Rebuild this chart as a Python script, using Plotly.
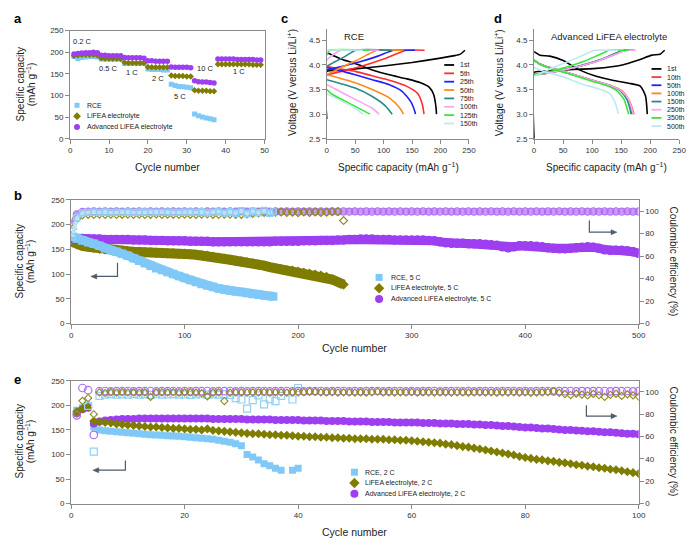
import plotly.graph_objects as go

W, H = 700, 548
FONT = 'Arial'
C_RCE = '#7fc8f8'
C_LIF = '#7f7d00'
C_ADV = '#9d3ef0'
C_RCE_O = '#8fd0f8'
C_LIF_O = '#8f8c20'
C_ADV_O = '#b06cf4'
AXC = '#8a8a8a'

# ---------------- Panel a : rate test ----------------
a_cycles = list(range(1, 50))
a_rce = [190, 185, 188, 189, 190, 190, 189,
         184, 184, 184, 184, 184, 184,
         174, 174, 174, 174, 174, 174,
         161, 160, 160, 160, 159, 159,
         126, 123, 121, 120, 119, 118,
         57, 53, 50, 48, 46, 44] + [None] * 12
a_lif = [192, 193, 194, 194, 194, 194, 193,
         186, 185, 185, 185, 185, 184,
         176, 175, 175, 175, 175, 175,
         166, 165, 165, 165, 165, 165,
         146, 145, 145, 145, 144, 144,
         112, 111, 111, 111, 110, 110,
         172, 172, 172, 172, 172, 172, 172, 172, 172, 171, 171, 171]
a_adv = [196, 197, 198, 199, 199, 200, 199,
         193, 193, 192, 192, 192, 192,
         188, 187, 187, 187, 187, 186,
         180, 180, 179, 179, 179, 179,
         166, 165, 165, 165, 165, 164,
         134, 132, 131, 131, 130, 129,
         184, 184, 184, 184, 184, 183, 183, 183, 183, 183, 182, 182]
a_rate_labels = ['0.2 C', '0.5 C', '1 C', '2 C', '5 C', '10 C', '1 C']

# ---------------- Panel c : RCE voltage profiles ----------------
c_names = ['1st', '5th', '25th', '50th', '75th', '100th', '125th', '150th']
c_colors = ['#000000', '#ff2d2d', '#2020ff', '#ff8a1c', '#2a8a8a', '#f5a6f5', '#36e836', '#bfe9f2']
c1_ch_q = [0, 0, 25, 50, 100, 150, 200, 225, 235, 243]
c1_ch_v = [2.9, 3.87, 3.89, 3.92, 3.98, 4.05, 4.14, 4.19, 4.22, 4.3]
c1_dis_q = [0, 10, 25, 50, 80, 110, 140, 165, 180, 188, 192, 193]
c1_dis_v = [4.25, 4.2, 4.12, 4.03, 3.9, 3.8, 3.72, 3.64, 3.55, 3.4, 3.15, 3.0]
c5_ch_q = [0, 30, 60, 100, 140, 172]
c5_ch_v = [3.8, 3.88, 3.97, 4.12, 4.3, 4.3]
c5_dis_q = [0, 25, 50, 80, 110, 140, 160, 168, 171]
c5_dis_v = [3.97, 3.92, 3.87, 3.78, 3.69, 3.57, 3.42, 3.2, 3.0]
c25_ch_q = [0, 30, 60, 90, 117, 155]
c25_ch_v = [3.9, 3.98, 4.07, 4.18, 4.3, 4.3]
c25_dis_q = [0, 25, 50, 80, 110, 132, 148, 155, 156]
c25_dis_v = [3.95, 3.88, 3.8, 3.7, 3.6, 3.47, 3.25, 3.05, 3.0]
c50_ch_q = [0, 25, 50, 70, 88, 135]
c50_ch_v = [3.8, 3.95, 4.08, 4.2, 4.3, 4.3]
c50_dis_q = [0, 20, 50, 80, 110, 128, 135]
c50_dis_v = [3.8, 3.74, 3.64, 3.5, 3.33, 3.13, 3.0]
c75_ch_q = [0, 15, 30, 51, 115]
c75_ch_v = [3.97, 4.07, 4.16, 4.3, 4.3]
c75_dis_q = [0, 10, 25, 50, 80, 103, 115]
c75_dis_v = [3.7, 3.67, 3.62, 3.53, 3.36, 3.17, 3.0]
c100_ch_q = [0, 10, 25, 92]
c100_ch_v = [4.1, 4.2, 4.3, 4.3]
c100_dis_q = [0, 20, 50, 80, 92]
c100_dis_v = [3.6, 3.48, 3.3, 3.12, 3.0]
c125_ch_q = [0, 5, 76]
c125_ch_v = [4.2, 4.3, 4.3]
c125_dis_q = [0, 10, 40, 76]
c125_dis_v = [3.5, 3.4, 3.22, 3.0]
c150_ch_q = [0, 2, 63]
c150_ch_v = [4.25, 4.3, 4.3]
c150_dis_q = [0, 20, 50, 63]
c150_dis_v = [3.42, 3.3, 3.12, 3.0]

# ---------------- Panel d : advanced LiFEA voltage profiles ----------------
d_names = ['1st', '10th', '50th', '100th', '150th', '250th', '350th', '500th']
d_colors = ['#000000', '#ff3b3b', '#2020ff', '#ff8a1c', '#2a8a8a', '#f5a6f5', '#36e836', '#bfe9f2']
d1_ch_q = [0, 0, 10, 50, 107, 152, 180, 203, 217, 225]
d1_ch_v = [2.5, 3.85, 3.87, 3.9, 3.93, 4.0, 4.1, 4.2, 4.22, 4.3]
d1_dis_q = [0, 10, 27, 50, 78, 107, 135, 163, 183, 192, 195]
d1_dis_v = [4.27, 4.2, 4.18, 4.09, 3.9, 3.77, 3.69, 3.63, 3.57, 3.37, 3.0]
d_ch_v = [3.8, 3.84, 3.9, 3.98, 4.07, 4.17, 4.25, 4.3, 4.3]
d10_ch_q = [0, 25, 50, 80, 107, 130, 146, 158, 173]
d50_ch_q = [0, 25, 50, 79, 106, 129, 145, 157, 171]
d100_ch_q = [0, 25, 50, 79, 106, 129, 145, 157, 172]
d150_ch_q = [0, 24, 49, 78, 104, 127, 143, 155, 168]
d250_ch_q = [0, 25, 50, 80, 107, 130, 147, 159, 175]
d350_ch_q = [0, 18, 38, 62, 85, 105, 120, 129, 163]
d_dis_v = [4.1, 4.02, 3.97, 3.87, 3.77, 3.67, 3.57, 3.47, 3.3, 3.12, 3.0]
d10_dis_q = [0, 10, 21, 50, 78, 107, 135, 152, 163, 169, 172]
d50_dis_q = [0, 10, 21, 49, 77, 105, 133, 150, 161, 167, 169]
d100_dis_q = [0, 10, 21, 49, 77, 106, 134, 151, 162, 168, 170]
d150_dis_q = [0, 10, 20, 48, 76, 104, 132, 149, 160, 165, 167]
d250_dis_q = [0, 10, 21, 50, 78, 106, 134, 151, 163, 168, 171]
d350_dis_q = [0, 9, 19, 46, 73, 100, 127, 143, 155, 160, 163]
d500_ch_q = [0, 15, 33, 55, 75, 90, 104, 145]
d500_ch_v = [3.77, 3.85, 3.95, 4.05, 4.15, 4.23, 4.3, 4.3]
d500_dis_q = [0, 10, 25, 50, 78, 107, 124, 132, 138, 142, 145]
d500_dis_v = [3.95, 3.9, 3.84, 3.76, 3.63, 3.53, 3.46, 3.4, 3.28, 3.15, 3.0]

# ---------------- Panel b : 5 C cycling (every 5th cycle) ----------------
b_x_adv = [1] + list(range(5, 501, 5))
b_x_lif = [1] + list(range(5, 241, 5))
b_x_rce = [1] + list(range(5, 176, 5)) + [178]
b_adv_cap = [173, 172, 172, 171, 171, 171, 170, 170, 170, 170,
             170, 169, 169, 169, 168, 168, 168, 167, 167, 167,
             167, 166, 166, 166, 166, 165, 165, 165, 165, 165,
             165, 165, 165, 165, 165, 165, 166, 166, 166, 166,
             166, 167, 167, 167, 168, 168, 168, 169, 169, 170,
             170, 171, 171, 171, 170, 170, 170, 169, 169, 169,
             169, 169, 169, 168, 167, 165, 163, 162, 162, 162,
             161, 161, 161, 160, 159, 158, 155, 153, 155, 157,
             157, 157, 156, 155, 153, 152, 151, 151, 152, 153,
             154, 155, 154, 152, 149, 148, 148, 148, 147, 145,
             142]
b_lif_cap = [165,
             160, 157, 155, 153, 151, 150, 149, 148, 147, 146,
             145, 145, 144, 144, 143, 143, 142, 142, 141, 141,
             140, 139, 138, 137, 135, 133, 131, 129, 127, 126,
             124, 122, 119, 117, 114, 112, 110, 108, 107, 105,
             103, 101, 99, 97, 94, 89, 84, 79]
b_rce_cap = [176,
             172, 168, 164, 161, 157, 152, 148, 145, 141, 137,
             132, 127, 122, 117, 112, 108, 104, 100, 96, 92,
             88, 84, 80, 77, 74, 71, 69, 67, 65, 64,
             62, 60, 59, 57, 56,
             55]
b_adv_ce = [88, 97, 99.2, 99.5, 99.6, 99.4, 99.7, 99.5, 99.6, 99.4,
            99.7, 99.5, 99.6, 99.4, 99.7, 99.5, 99.6, 99.4, 99.7, 99.5,
            99.6, 99.4, 99.7, 99.5, 99.6, 99.4, 99.7, 99.5, 99.6, 99.4,
            99.7, 99.5, 99.6, 99.4, 99.7, 99.5, 99.6, 99.4, 99.7, 99.5,
            99.6, 99.4, 99.7, 99.5, 99.6, 99.4, 99.7, 99.5, 99.6, 99.4,
            99.7, 99.5, 99.6, 99.4, 99.7, 99.5, 99.6, 99.4, 99.7, 99.5,
            99.6, 99.4, 99.7, 99.5, 99.6, 99.4, 99.7, 99.5, 99.6, 99.4,
            99.7, 99.5, 99.6, 99.4, 99.7, 99.5, 99.6, 99.4, 99.7, 99.5,
            99.6, 99.4, 99.7, 99.5, 99.6, 99.4, 99.7, 99.5, 99.6, 99.4,
            99.7, 99.5, 99.6, 99.4, 99.7, 99.5, 99.6, 99.4, 99.7, 99.5,
            99.6]
b_lif_ce = [84, 93, 96.5, 97.0, 96.8, 97.2, 96.9, 97.1, 96.8, 97.0,
            97.2, 96.9, 97.1, 96.8, 97.0, 97.3, 96.9, 97.1, 97.0, 96.8,
            97.2, 97.0, 96.9, 97.1, 97.3, 97.0, 96.8, 97.2, 97.1, 96.9,
            97.0, 97.4, 97.8, 98.2, 98.6, 98.4, 98.8, 99.0, 98.6, 98.9,
            98.5, 99.0, 98.7, 99.1, 98.6, 98.9, 99.3, 99.5, 91.5]
b_rce_ce = [77, 94, 98.2, 98.8, 99.0, 98.6, 99.1, 98.7, 99.0, 98.8,
            99.2, 98.6, 98.9, 99.1, 98.7, 99.0, 98.8, 99.2, 98.6, 99.0,
            98.9, 99.1, 98.7, 99.3, 98.5, 99.0, 99.6, 98.2, 99.4, 98.0,
            100.2, 97.6, 99.8, 98.4, 100.4, 98.0, 99.2]

# ---------------- Panel e : 2 C cycling ----------------
e_x = list(range(1, 101))
e_x_rce = list(range(1, 41))
e_adv_cap = [184, 192, 195, 163, 167, 169, 170, 171, 172, 172,
             172, 173, 173, 173, 173, 173, 173, 173, 173, 173,
             173, 173, 173, 173, 172, 172, 172, 172, 172, 172,
             171, 171, 171, 171, 171, 170, 170, 170, 170, 170,
             169, 169, 169, 169, 168, 168, 168, 168, 167, 167,
             167, 167, 166, 166, 166, 166, 165, 165, 165, 165,
             165, 164, 164, 164, 163, 163, 163, 162, 162, 162,
             161, 161, 160, 160, 159, 158, 158, 157, 156, 155,
             155, 154, 153, 153, 152, 151, 150, 150, 149, 148,
             147, 147, 146, 145, 145, 144, 143, 142, 142, 141]
e_lif_cap = [187, 193, 196, 168, 166, 165, 164, 162, 161, 160,
             159, 158, 157, 156, 156, 155, 154, 153, 153, 152,
             151, 151, 150, 152, 149, 148, 147, 146, 145, 144,
             143, 142, 142, 141, 140, 140, 139, 139, 138, 137,
             137, 136, 136, 135, 135, 134, 134, 133, 133, 132,
             132, 132, 131, 131, 131, 130, 130, 129, 129, 128,
             127, 126, 125, 124, 123, 121, 120, 118, 116, 115,
             113, 111, 109, 107, 105, 103, 101, 99, 96, 94,
             92, 90, 89, 87, 86, 84, 83, 81, 79, 78,
             76, 75, 73, 72, 70, 69, 67, 65, 63, 61]
e_rce_cap = [190, 195, 197, 156, 150, 148, 147, 146, 145, 144,
             143, 142, 141, 140, 139.5, 139, 138, 137.5, 137, 136,
             135, 134, 133, 132, 131, 129, 127, 125, 122, 118,
             100, 95, 89, 81, 77, 72, 68, None, 68, 72]
e_adv_ce = [79, 103.5, 101.5, 61.5, 100.6, 100.8, 100.5, 100.7, 100.6, 100.8,
            100.5, 100.7, 100.6, 100.8, 100.5, 100.7, 100.6, 100.8, 100.5, 100.7,
            100.5, 100.7, 100.6, 100.8, 100.5, 100.7, 100.6, 100.8, 100.5, 100.7,
            100.5, 100.7, 100.6, 100.8, 100.5, 100.7, 100.6, 100.8, 100.5, 100.7,
            100.5, 100.7, 100.6, 100.8, 100.5, 100.7, 100.6, 100.8, 100.5, 100.7,
            100.5, 100.7, 100.6, 100.8, 100.5, 100.7, 100.6, 100.8, 100.5, 100.7,
            100.5, 100.7, 100.6, 100.8, 100.5, 100.7, 100.6, 100.8, 100.5, 100.7,
            100.5, 100.7, 100.6, 100.8, 100.5, 100.7, 100.6, 100.8, 100.5, 100.7,
            100.5, 100.7, 100.6, 100.8, 100.5, 100.7, 100.6, 100.8, 100.5, 100.7,
            100.5, 100.7, 100.6, 100.8, 100.5, 100.7, 100.6, 100.8, 100.5, 100.7]
e_lif_ce = [80.5, 92, 94.5, 80, 99.5, 99.0, 99.7, 99.4, 99.7, 99.5,
            99.6, 99.4, 99.6, 95.5, 99.5, 99.6, 99.5, 99.7, 99.4, 99.6,
            99.5, 99.4, 98.8, 96.0, 99.4, 99.6, 91.8, 99.3, 99.5, 99.6,
            99.4, 99.6, 99.5, 99.7, 99.4, 99.6, 99.5, 99.3, 99.6, 99.5,
            99.7, 100.3, 100.0, 99.6, 99.5, 99.7, 99.4, 99.6, 99.5, 99.3,
            99.6, 99.4, 99.7, 100.2, 99.5, 99.6, 99.4, 99.6, 99.5, 99.7,
            99.4, 99.6, 99.5, 99.3, 99.6, 99.5, 99.4, 99.6, 99.5, 99.3,
            99.6, 99.5, 99.4, 99.6, 99.3, 99.5, 99.4, 99.6, 99.3, 99.5,
            99.2, 99.4, 99.6, 99.8, 100.6, 99.2, 98.0, 97.2, 98.4, 97.6,
            96.8, 98.2, 97.0, 95.6, 97.4, 98.3, 96.4, 97.8, 96.9, 95.8]
e_rce_ce = [None, None, 87.5, 46.5, 96.5, 97.5, 98.0, 97.6, 97.8, 97.5,
            98.0, 97.6, 97.8, 97.4, 97.9, 97.5, 97.7, 98.0, 97.6, 97.8,
            97.4, 97.7, 97.9, 97.5, 97.8, 97.6, 98.0, 97.2, 94.5, 93.2,
            85.0, 92.7, 96.8, 88.9, 93.5, 91.8, 96.5, None, 93.2, 103.5]

for xs, ys in [(b_x_adv, b_adv_cap), (b_x_adv, b_adv_ce), (b_x_lif, b_lif_cap), (b_x_lif, b_lif_ce),
               (b_x_rce, b_rce_cap), (b_x_rce, b_rce_ce), (e_x, e_adv_cap), (e_x, e_lif_cap),
               (e_x, e_adv_ce), (e_x, e_lif_ce), (e_x_rce, e_rce_cap), (e_x_rce, e_rce_ce),
               (a_cycles, a_rce), (a_cycles, a_lif), (a_cycles, a_adv)]:
    assert len(xs) == len(ys), (len(xs), len(ys))

# ---------------- figure ----------------
fig = go.Figure()


def sc(x, y, xa, ya, **kw):
    fig.add_trace(go.Scatter(x=x, y=y, xaxis=xa, yaxis=ya, showlegend=False, hoverinfo='skip', **kw))


def mk(sym, size, color, lw=0, lc=None):
    return dict(symbol=sym, size=size, color=color, line=dict(width=lw, color=lc or color))


# panel a
sc(a_cycles, a_rce, 'x', 'y', mode='markers', marker=mk('square', 5, C_RCE))
sc(a_cycles, a_lif, 'x', 'y', mode='markers', marker=mk('diamond', 5, C_LIF))
sc(a_cycles, a_adv, 'x', 'y', mode='markers', marker=mk('circle', 5.5, C_ADV))

# panel c
c_curves = [(c1_ch_q, c1_ch_v, c1_dis_q, c1_dis_v), (c5_ch_q, c5_ch_v, c5_dis_q, c5_dis_v),
            (c25_ch_q, c25_ch_v, c25_dis_q, c25_dis_v), (c50_ch_q, c50_ch_v, c50_dis_q, c50_dis_v),
            (c75_ch_q, c75_ch_v, c75_dis_q, c75_dis_v), (c100_ch_q, c100_ch_v, c100_dis_q, c100_dis_v),
            (c125_ch_q, c125_ch_v, c125_dis_q, c125_dis_v), (c150_ch_q, c150_ch_v, c150_dis_q, c150_dis_v)]
for (cq, cv, dq, dv), col in zip(c_curves, c_colors):
    sc(cq, cv, 'x2', 'y2', mode='lines', line=dict(color=col, width=1.6, shape='spline', smoothing=0.5))
    sc(dq, dv, 'x2', 'y2', mode='lines', line=dict(color=col, width=1.6, shape='spline', smoothing=0.6))

# panel d
d_curves = [(d1_ch_q, d1_ch_v, d1_dis_q, d1_dis_v), (d10_ch_q, d_ch_v, d10_dis_q, d_dis_v),
            (d50_ch_q, d_ch_v, d50_dis_q, d_dis_v), (d100_ch_q, d_ch_v, d100_dis_q, d_dis_v),
            (d150_ch_q, d_ch_v, d150_dis_q, d_dis_v), (d250_ch_q, d_ch_v, d250_dis_q, d_dis_v),
            (d350_ch_q, d_ch_v, d350_dis_q, d_dis_v), (d500_ch_q, d500_ch_v, d500_dis_q, d500_dis_v)]
for (cq, cv, dq, dv), col in zip(d_curves, d_colors):
    sc(cq, cv, 'x3', 'y3', mode='lines', line=dict(color=col, width=1.6, shape='spline', smoothing=0.5))
    sc(dq, dv, 'x3', 'y3', mode='lines', line=dict(color=col, width=1.6, shape='spline', smoothing=0.6))

# panel b (dense bands: thick line through the points plus markers)
sc(b_x_lif, b_lif_cap, 'x4', 'y4', mode='lines+markers', line=dict(color=C_LIF, width=10),
   marker=mk('diamond', 8, C_LIF))
sc(b_x_adv, b_adv_cap, 'x4', 'y4', mode='lines+markers', line=dict(color=C_ADV, width=9),
   marker=mk('circle', 9.5, C_ADV))
sc(b_x_rce, b_rce_cap, 'x4', 'y4', mode='lines+markers', line=dict(color=C_RCE, width=9),
   marker=mk('square', 8.5, C_RCE))
sc(b_x_adv, b_adv_ce, 'x4', 'y5', mode='lines+markers', line=dict(color='#c79bf5', width=6),
   marker=mk('circle-open', 7, C_ADV_O, 1.3))
sc(b_x_lif, b_lif_ce, 'x4', 'y5', mode='markers', marker=mk('diamond-open', 6, C_LIF_O, 1.2))
sc(b_x_rce, b_rce_ce, 'x4', 'y5', mode='lines+markers', line=dict(color='#b9e2fb', width=4),
   marker=mk('square-open', 6, C_RCE_O, 1.4))

# panel e
sc(e_x_rce, e_rce_cap, 'x5', 'y6', mode='markers', marker=mk('square', 7, C_RCE))
sc(e_x, e_adv_cap, 'x5', 'y6', mode='markers', marker=mk('circle', 8, C_ADV))
sc(e_x, e_lif_cap, 'x5', 'y6', mode='markers', marker=mk('diamond', 7, C_LIF))
sc(e_x_rce, e_rce_ce, 'x5', 'y7', mode='markers', marker=mk('square-open', 7, C_RCE_O, 1.2))
sc(e_x, e_adv_ce, 'x5', 'y7', mode='markers', marker=mk('circle-open', 7.5, C_ADV_O, 1.2))
sc(e_x, e_lif_ce, 'x5', 'y7', mode='markers', marker=mk('diamond-open', 5.5, C_LIF_O, 1.1))

# legend swatches on a pixel overlay
sc([76], [103], 'x6', 'y8', mode='markers', marker=mk('square', 5, C_RCE))
sc([76], [114], 'x6', 'y8', mode='markers', marker=mk('diamond', 6, C_LIF))
sc([76], [125], 'x6', 'y8', mode='markers', marker=mk('circle', 6, C_ADV))
sc([382], [278], 'x6', 'y8', mode='markers', marker=mk('square', 7, C_RCE))
sc([382], [289], 'x6', 'y8', mode='markers', marker=mk('diamond', 8, C_LIF))
sc([382], [300], 'x6', 'y8', mode='markers', marker=mk('circle', 8, C_ADV))
sc([357], [476], 'x6', 'y8', mode='markers', marker=mk('square', 7, C_RCE))
sc([357], [487], 'x6', 'y8', mode='markers', marker=mk('diamond', 8, C_LIF))
sc([357], [498], 'x6', 'y8', mode='markers', marker=mk('circle', 8, C_ADV))

c_leg_y = [62, 70.5, 79, 87.5, 96, 104.5, 113, 121.5]
d_leg_y = [66, 74.3, 82.6, 90.9, 99.2, 107.5, 115.8, 124.1]
for yy, col in zip(c_leg_y, c_colors):
    sc([448, 458], [yy, yy], 'x6', 'y8', mode='lines', line=dict(color=col, width=1.8))
for yy, col in zip(d_leg_y, d_colors):
    sc([658, 668], [yy, yy], 'x6', 'y8', mode='lines', line=dict(color=col, width=1.8))

# ---------------- layout ----------------
TF = dict(family=FONT, size=8, color='#333333')


def ax(**kw):
    d = dict(showline=True, linecolor=AXC, linewidth=1, ticks='outside', ticklen=4, tickcolor=AXC,
             tickwidth=1, showgrid=False, zeroline=False, tickfont=TF, fixedrange=True)
    d.update(kw)
    return d


def dx(a, b):
    return [a / W, b / W]


def dy(top, bot):
    return [1 - bot / H, 1 - top / H]


fig.update_layout(
    width=W, height=H, margin=dict(l=0, r=0, t=0, b=0),
    paper_bgcolor='white', plot_bgcolor='rgba(0,0,0,0)',
    font=dict(family=FONT, color='#222222'),
    showlegend=False,
    xaxis=ax(domain=dx(69, 266), range=[0, 50], dtick=10, mirror=True, anchor='y'),
    yaxis=ax(domain=dy(27, 137), range=[0, 250], dtick=50, mirror=True, anchor='x'),
    xaxis2=ax(domain=dx(329, 473), range=[0, 250], dtick=50, anchor='y2'),
    yaxis2=ax(domain=dy(25, 137), range=[2.5, 4.74], tickvals=[2.5, 3, 3.5, 4, 4.5],
              ticktext=['2.5', '3.0', '3.5', '4.0', '4.5'], anchor='x2'),
    xaxis3=ax(domain=dx(539, 686), range=[0, 250], dtick=50, anchor='y3'),
    yaxis3=ax(domain=dy(25, 137), range=[2.5, 4.74], tickvals=[2.5, 3, 3.5, 4, 4.5],
              ticktext=['2.5', '3.0', '3.5', '4.0', '4.5'], anchor='x3'),
    xaxis4=ax(domain=dx(70, 645), range=[0, 500], dtick=100, mirror=True, anchor='y4'),
    yaxis4=ax(domain=dy(199, 325), range=[0, 250], dtick=50, anchor='x4'),
    yaxis5=ax(overlaying='y4', side='right', range=[0, 110], tickvals=[0, 20, 40, 60, 80, 100], anchor='x4'),
    xaxis5=ax(domain=dx(70, 645), range=[0, 100], dtick=20, mirror=True, anchor='y6'),
    yaxis6=ax(domain=dy(383, 508), range=[0, 250], dtick=50, anchor='x5'),
    yaxis7=ax(overlaying='y6', side='right', range=[0, 110], tickvals=[0, 20, 40, 60, 80, 100], anchor='x5'),
    xaxis6=dict(domain=[0, 1], range=[0, W], visible=False, fixedrange=True, anchor='y8'),
    yaxis8=dict(domain=[0, 1], range=[H, 0], visible=False, fixedrange=True, anchor='x6'),
)

anns = []


def txt(x, y, t, size=10, xa='center', ya='middle', angle=0, bold=False, color='#222222'):
    anns.append(dict(x=x / W, y=1 - y / H, xref='paper', yref='paper', text=('<b>%s</b>' % t) if bold else t,
                     showarrow=False, xanchor=xa, yanchor=ya, textangle=angle,
                     font=dict(family=FONT, size=size, color=color)))


# panel letters
txt(10, 15, 'a', 13, 'left', bold=True, color='#000')
txt(281, 15, 'c', 13, 'left', bold=True, color='#000')
txt(496, 15, 'd', 13, 'left', bold=True, color='#000')
txt(10, 195, 'b', 13, 'left', bold=True, color='#000')
txt(10, 382, 'e', 13, 'left', bold=True, color='#000')

CAP1 = 'Specific capacity'
CAP2 = '(mAh g<sup>−1</sup>)'
# a
txt(19, 82, CAP1, 10, angle=-90)
txt(29, 82, CAP2, 10, angle=-90)
txt(168, 166, 'Cycle number', 10.5)
rate_pos = [(82, 38), (108, 66), (132, 70), (158, 76), (180, 94), (206, 66), (240, 69)]
for (xx, yy), lab in zip(rate_pos, a_rate_labels):
    txt(xx, yy, lab, 7.5)
txt(84, 103, 'RCE', 7, 'left')
txt(84, 114, 'LiFEA electrolyte', 7, 'left')
txt(84, 125, 'Advanced LiFEA electrolyte', 7, 'left')
# c
txt(293, 80, 'Voltage (V versus Li/Li<sup>+</sup>)', 10, angle=-90)
txt(402, 166, 'Specific capacity (mAh g<sup>−1</sup>)', 10)
txt(344, 33, 'RCE', 9.5, 'left')
for yy, n in zip(c_leg_y, c_names):
    txt(462, yy, n, 7, 'left')
# d
txt(503, 80, 'Voltage (V versus Li/Li<sup>+</sup>)', 10, angle=-90)
txt(612, 166, 'Specific capacity (mAh g<sup>−1</sup>)', 10)
txt(615, 33, 'Advanced LiFEA electrolyte', 9.5)
for yy, n in zip(d_leg_y, d_names):
    txt(672, yy, n, 7, 'left')
# b
txt(18, 262, CAP1, 10, angle=-90)
txt(28, 262, CAP2, 10, angle=-90)
txt(680, 262, 'Coulombic efficiency (%)', 10, angle=90)
txt(357, 350, 'Cycle number', 10.5)
txt(392, 278, 'RCE, 5 C', 7, 'left')
txt(392, 289, 'LiFEA electrolyte, 5 C', 7, 'left')
txt(392, 300, 'Advanced LiFEA electrolyte, 5 C', 7, 'left')
# e
txt(18, 445, CAP1, 10, angle=-90)
txt(28, 445, CAP2, 10, angle=-90)
txt(680, 445, 'Coulombic efficiency (%)', 10, angle=90)
txt(357, 537, 'Cycle number', 10.5)
txt(366, 476, 'RCE, 2 C', 7, 'left')
txt(366, 487, 'LiFEA electrolyte, 2 C', 7, 'left')
txt(366, 498, 'Advanced LiFEA electrolyte, 2 C', 7, 'left')

# bent arrows (drawn as shapes)
ARC = '#4d5b6b'
shapes = []


def P(x, y):
    return '%.5f,%.5f' % (x / W, 1 - y / H)


def arrow(xv, y0, y1, xtip):
    d = 1 if xtip > xv else -1
    shapes.append(dict(type='path', xref='paper', yref='paper',
                       path='M%s L%s L%s' % (P(xv, y0), P(xv, y1), P(xtip - d * 4, y1)),
                       line=dict(color=ARC, width=1.2)))
    shapes.append(dict(type='path', xref='paper', yref='paper',
                       path='M%s L%s L%s Z' % (P(xtip, y1), P(xtip - d * 6, y1 - 2.6), P(xtip - d * 6, y1 + 2.6)),
                       fillcolor=ARC, line=dict(color=ARC, width=0.5)))


arrow(117, 263, 277, 90)
arrow(595, 220, 232, 623)
arrow(125, 464, 474, 92)
arrow(592, 408, 419, 623)

fig.update_layout(annotations=anns, shapes=shapes)
fig.write_html('out.html')
